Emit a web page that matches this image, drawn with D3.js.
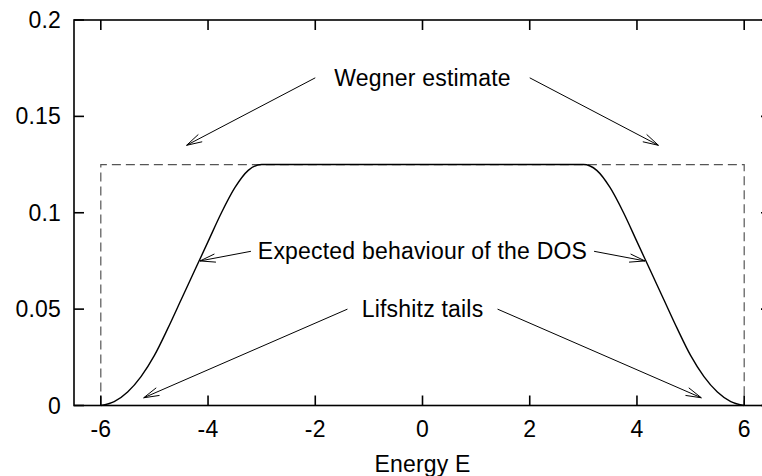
<!DOCTYPE html>
<html>
<head>
<meta charset="utf-8">
<script src="https://cdn.jsdelivr.net/npm/d3@7"></script>
<style>
  body { margin: 0; background: #fff; }
  svg { display: block; }
  text { font-family: "Liberation Sans", Arial, Helvetica, sans-serif; fill: #000; letter-spacing: 0.2px; }
</style>
</head>
<body>
<div id="chart"></div>
<script>
// density of states (left branch, mirrored on the right)
const energy = [-6, -5.75, -5.5, -5.25, -5, -4.75, -4.5, -4.25, -4, -3.75, -3.5, -3.25, -3,
                3, 3.25, 3.5, 3.75, 4, 4.25, 4.5, 4.75, 5, 5.25, 5.5, 5.75, 6];
const dos = [0, 0.002, 0.007, 0.015, 0.026, 0.040, 0.055, 0.070, 0.085, 0.100, 0.113, 0.122, 0.125,
             0.125, 0.122, 0.113, 0.100, 0.085, 0.070, 0.055, 0.040, 0.026, 0.015, 0.007, 0.002, 0];

// Wegner bound: box from -6 to 6 at height 0.125
const wegnerX = [-6, -6, 6, 6];
const wegnerY = [0, 0.125, 0.125, 0];

const xTicks = [-6, -4, -2, 0, 2, 4, 6];
const yTicks = [0, 0.05, 0.1, 0.15, 0.2];

const labels = [
  { text: "Wegner estimate", x: 0, y: 0.17 },
  { text: "Expected behaviour of the DOS", x: 0, y: 0.08 },
  { text: "Lifshitz tails", x: 0, y: 0.05 }
];

const arrows = [
  { x1: -2, y1: 0.17, x2: -4.4, y2: 0.135 },
  { x1: 2, y1: 0.17, x2: 4.4, y2: 0.135 },
  { x1: -3.2, y1: 0.08, x2: -4.15, y2: 0.075 },
  { x1: 3.2, y1: 0.08, x2: 4.15, y2: 0.075 },
  { x1: -1.4, y1: 0.05, x2: -5.2, y2: 0.004 },
  { x1: 1.4, y1: 0.05, x2: 5.2, y2: 0.004 }
];

const W = 762, H = 476;
const m = { left: 74, right: 771, top: 20, bottom: 405.5 };
const fs = 23;

const svg = d3.select("#chart").append("svg")
  .attr("width", W)
  .attr("height", H);

const x = d3.scaleLinear().domain([-6.5, 6.5]).range([m.left, m.right]);
const y = d3.scaleLinear().domain([0, 0.2]).range([m.bottom, m.top]);

// wegner box (dashed)
svg.append("path")
  .datum(d3.zip(wegnerX, wegnerY))
  .attr("d", d3.line().x(d => x(d[0])).y(d => y(d[1])))
  .attr("fill", "none")
  .attr("stroke", "#555")
  .attr("stroke-width", 1.2)
  .attr("stroke-dasharray", "9,5");

// dos curve
svg.append("path")
  .datum(d3.zip(energy, dos))
  .attr("d", d3.line().x(d => x(d[0])).y(d => y(d[1])).curve(d3.curveMonotoneX))
  .attr("fill", "none")
  .attr("stroke", "#000")
  .attr("stroke-width", 1.4);

// frame + mirrored inward ticks
const frame = svg.append("g").attr("stroke", "#000").attr("stroke-width", 1.6);
frame.append("rect")
  .attr("x", m.left).attr("y", m.top)
  .attr("width", m.right - m.left).attr("height", m.bottom - m.top)
  .attr("fill", "none");

const tl = 10;
xTicks.forEach(t => {
  frame.append("line").attr("x1", x(t)).attr("x2", x(t)).attr("y1", m.bottom).attr("y2", m.bottom - tl);
  frame.append("line").attr("x1", x(t)).attr("x2", x(t)).attr("y1", m.top).attr("y2", m.top + tl);
});
yTicks.forEach(t => {
  frame.append("line").attr("x1", m.left).attr("x2", m.left + tl).attr("y1", y(t)).attr("y2", y(t));
  frame.append("line").attr("x1", m.right).attr("x2", m.right - tl).attr("y1", y(t)).attr("y2", y(t));
});

// tick labels
svg.append("g").selectAll("text").data(xTicks).join("text")
  .attr("x", d => x(d))
  .attr("y", 437)
  .attr("text-anchor", "middle")
  .style("font-size", fs + "px")
  .text(d => d);

svg.append("g").selectAll("text").data(yTicks).join("text")
  .attr("x", 61)
  .attr("y", d => y(d) + fs * 0.35)
  .attr("text-anchor", "end")
  .style("font-size", fs + "px")
  .text(d => d);

svg.append("text")
  .attr("x", x(0))
  .attr("y", 471.5)
  .attr("text-anchor", "middle")
  .style("font-size", fs + "px")
  .text("Energy E");

// annotations
svg.append("g").selectAll("text").data(labels).join("text")
  .attr("x", d => x(d.x))
  .attr("y", d => y(d.y) + fs * 0.35)
  .attr("text-anchor", "middle")
  .style("font-size", fs + "px")
  .text(d => d.text);

const headLen = 16, headAng = Math.PI / 12;
const ag = svg.append("g").attr("stroke", "#000").attr("stroke-width", 1).attr("fill", "none");
arrows.forEach(a => {
  const sx = x(a.x1), sy = y(a.y1), ex = x(a.x2), ey = y(a.y2);
  const ang = Math.atan2(ey - sy, ex - sx);
  ag.append("line").attr("x1", sx).attr("y1", sy).attr("x2", ex).attr("y2", ey);
  ag.append("path").attr("d", d3.line()([
    [ex - headLen * Math.cos(ang - headAng), ey - headLen * Math.sin(ang - headAng)],
    [ex, ey],
    [ex - headLen * Math.cos(ang + headAng), ey - headLen * Math.sin(ang + headAng)]
  ]));
});
</script>
</body>
</html>
